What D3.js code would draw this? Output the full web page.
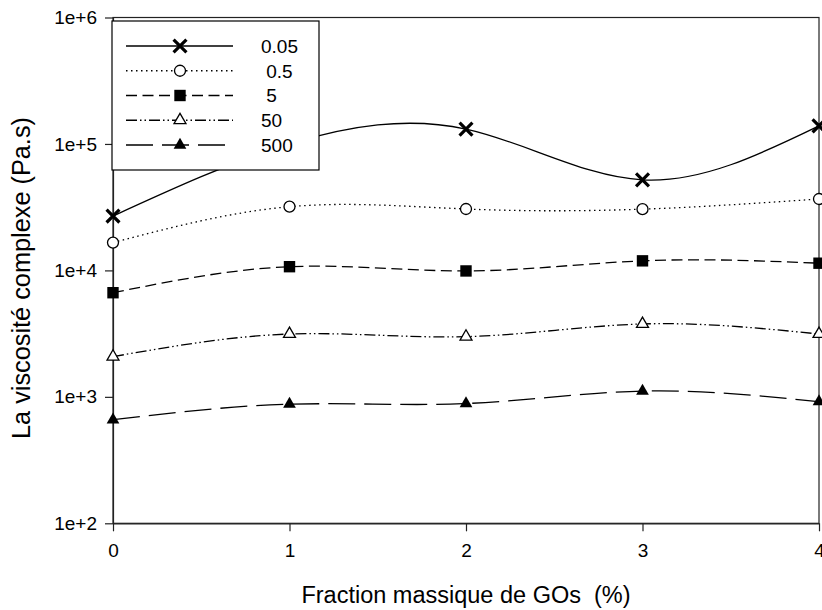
<!DOCTYPE html>
<html>
<head>
<meta charset="utf-8">
<script src="https://cdn.jsdelivr.net/npm/d3@7"></script>
<style>
  body { margin: 0; background: #fff; }
  svg { font-family: "Liberation Sans", Arial, sans-serif; }
</style>
</head>
<body>
<div id="chart"></div>
<script>
// fraction massique de GOs (%)
const fractions = [0, 1, 2, 3, 4];
// legend labels (shear rates), leading spaces as in the original
const seriesLabels = ['0.05', ' 0.5', ' 5', '50', '500'];
// complex viscosity (Pa.s) per series
const visc005 = [2.69e4, 1.0e5, 1.31e5, 5.2e4, 1.39e5];
const visc05 = [1.66e4, 3.19e4, 3.06e4, 3.05e4, 3.67e4];
const visc5 = [6.66e3, 1.07e4, 9.9e3, 1.19e4, 1.14e4];
const visc50 = [2.08e3, 3.14e3, 2.99e3, 3.77e3, 3.14e3];
const visc500 = [659, 875, 885, 1110, 916];
const yTicks = [1e2, 1e3, 1e4, 1e5, 1e6];
const yTickLabels = ['1e+2', '1e+3', '1e+4', '1e+5', '1e+6'];

const width = 822, height = 610;
const plotLeft = 113, plotRight = 819, plotTop = 17.5, plotBottom = 523.3;

const svg = d3.select('#chart').append('svg')
  .attr('width', width)
  .attr('height', height);

const xScale = d3.scaleLinear().domain([0, 4]).range([plotLeft, plotRight]);
const yScale = d3.scaleLog().domain([1e2, 1e6]).range([plotBottom, plotTop]);

const styles = [
  { dash: null, symbol: d3.symbolTimes, size: 110, fill: 'none', sw: 3.2 },
  { dash: '1.5,3.5', symbol: d3.symbolCircle, size: 95, fill: '#fff', sw: 1.3 },
  { dash: '11,5.5', symbol: d3.symbolSquare, size: 130, fill: '#000', sw: 0 },
  { dash: '11,3,1.5,3,1.5,3', symbol: d3.symbolTriangle, size: 62, fill: '#fff', sw: 1.3 },
  { dash: '27,9', symbol: d3.symbolTriangle, size: 70, fill: '#000', sw: 0 }
];
const allSeries = [visc005, visc05, visc5, visc50, visc500];

// frame
svg.append('rect')
  .attr('x', plotLeft).attr('y', plotTop)
  .attr('width', plotRight - plotLeft).attr('height', plotBottom - plotTop)
  .attr('fill', 'none').attr('stroke', '#222').attr('stroke-width', 1.2);

// axes
const xAxis = d3.axisBottom(xScale).tickValues(fractions).tickFormat(d3.format('d')).tickSize(8).tickSizeOuter(0);
const yAxis = d3.axisLeft(yScale).tickValues(yTicks).tickFormat((d, i) => yTickLabels[i]).tickSize(8).tickSizeOuter(0);

const gx = svg.append('g').attr('transform', 'translate(0,' + plotBottom + ')').call(xAxis);
const gy = svg.append('g').attr('transform', 'translate(' + plotLeft + ',0)').call(yAxis);
[gx, gy].forEach(g => {
  g.select('.domain').attr('stroke', '#222').attr('stroke-width', 1.2);
  g.selectAll('.tick line').attr('stroke', '#222').attr('stroke-width', 1.2);
  g.selectAll('.tick text').attr('font-size', 19).attr('fill', '#000')
    .attr('font-family', '"Liberation Sans", Arial, sans-serif');
});
gx.selectAll('.tick text').attr('y', 20).attr('dy', '0.71em');
gy.selectAll('.tick text').attr('x', -16);

// axis titles
svg.append('text')
  .attr('x', (plotLeft + plotRight) / 2).attr('y', 603)
  .attr('text-anchor', 'middle').attr('font-size', 23.5)
  .style('white-space', 'pre')
  .text('Fraction massique de GOs  (%)');

svg.append('text')
  .attr('transform', 'translate(30,278) rotate(-90)')
  .attr('text-anchor', 'middle').attr('font-size', 25.3)
  .text('La viscosité complexe (Pa.s)');

// curves
const line = d3.line()
  .x((d, i) => xScale(fractions[i]))
  .y(d => yScale(d))
  .curve(d3.curveNatural);

allSeries.forEach((values, k) => {
  const st = styles[k];
  svg.append('path')
    .attr('d', line(values))
    .attr('fill', 'none')
    .attr('stroke', '#000')
    .attr('stroke-width', 1.3)
    .attr('stroke-dasharray', st.dash);

  svg.selectAll('.m' + k)
    .data(values)
    .enter()
    .append('path')
    .attr('class', 'm' + k)
    .attr('transform', (d, i) => 'translate(' + xScale(fractions[i]) + ',' + yScale(d) + ')')
    .attr('d', d3.symbol(st.symbol, st.size))
    .attr('fill', st.fill)
    .attr('stroke', '#000')
    .attr('stroke-width', st.sw);
});

// legend
const legend = svg.append('g').attr('transform', 'translate(112,21)');
legend.append('rect')
  .attr('width', 207).attr('height', 149)
  .attr('fill', '#fff').attr('stroke', '#000').attr('stroke-width', 1.2);

const rowY = d3.scalePoint().domain(d3.range(5)).range([25, 124]);

seriesLabels.forEach((lab, k) => {
  const st = styles[k];
  const y = rowY(k);
  legend.append('line')
    .attr('x1', 14).attr('x2', 121).attr('y1', y).attr('y2', y)
    .attr('stroke', '#000').attr('stroke-width', 1.3)
    .attr('stroke-dasharray', st.dash);
  legend.append('path')
    .attr('transform', 'translate(68,' + y + ')')
    .attr('d', d3.symbol(st.symbol, st.size))
    .attr('fill', st.fill)
    .attr('stroke', '#000')
    .attr('stroke-width', st.sw);
  legend.append('text')
    .attr('x', 149).attr('y', y).attr('dy', '0.36em')
    .attr('font-size', 19)
    .style('white-space', 'pre')
    .text(lab);
});
</script>
</body>
</html>
